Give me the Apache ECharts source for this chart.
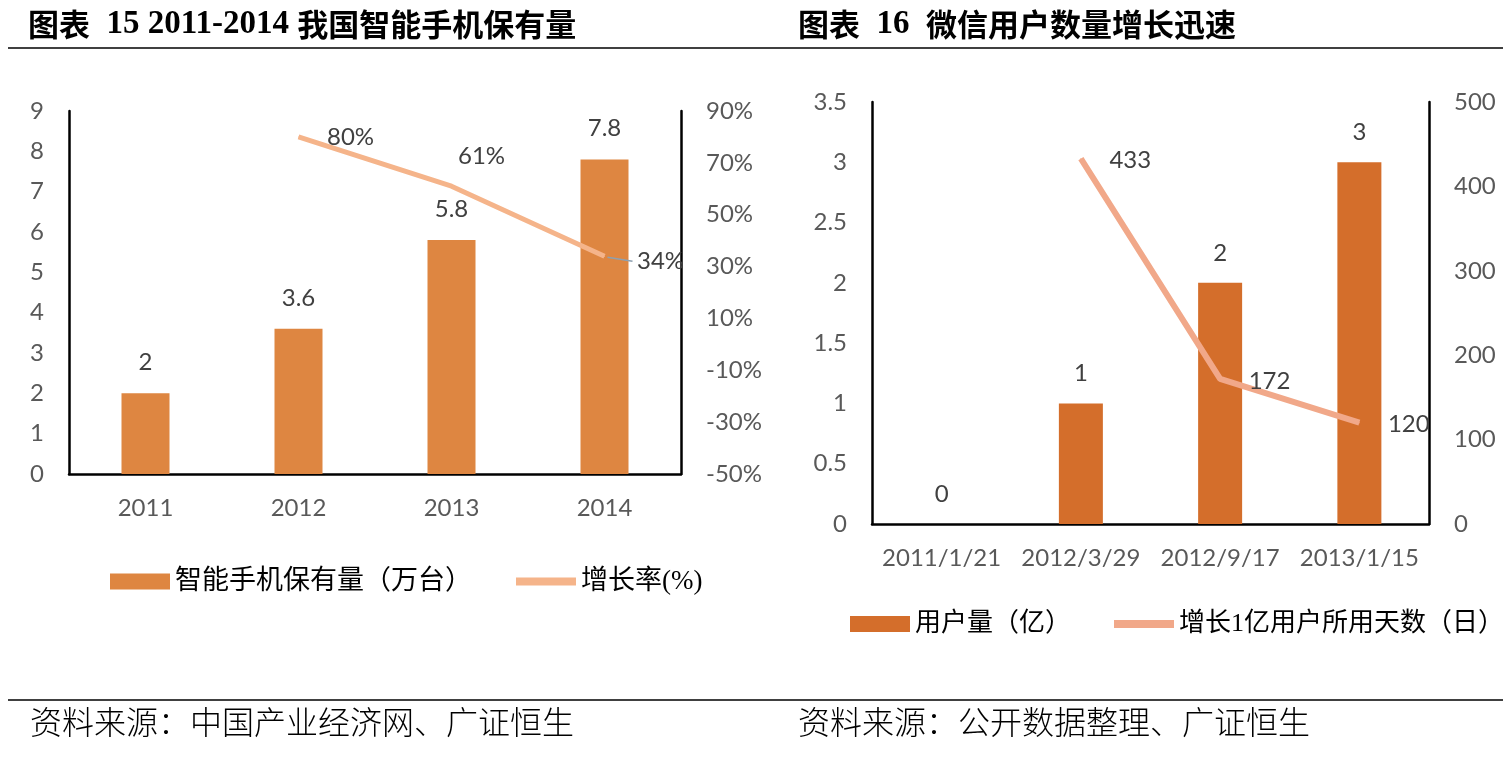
<!DOCTYPE html>
<html>
<head>
<meta charset="utf-8">
<script src="https://cdn.jsdelivr.net/npm/echarts@6/dist/echarts.min.js"></script>
<style>
html,body{margin:0;padding:0;background:#fff;}
#c{width:1510px;height:762px;}
</style>
</head>
<body>
<div id="c"></div>
<script>
// Chart 15
const years = ['2011', '2012', '2013', '2014'];
const phoneStock = [2, 3.6, 5.8, 7.8];
const growthRate = [null, 80, 61, 34];
// Chart 16
const dates = ['2011/1/21', '2012/3/29', '2012/9/17', '2013/1/15'];
const wechatUsers = [0, 1, 2, 3];
const daysPer100m = [null, 433, 172, 120];

const latin = 'Lato, "Noto Sans CJK SC", sans-serif';
const cjk = '"Liberation Serif", "Noto Sans CJK SC", serif';
const labelColor = '#595959';
const valColor = '#404040';

const chart = echarts.init(document.getElementById('c'));

function yAxis(gridIndex, min, max, interval, pos, fmt) {
  return {
    type: 'value', gridIndex, min, max, interval, position: pos,
    axisLine: {show: true, lineStyle: {color: '#000', width: 2.5}},
    axisTick: {show: false},
    splitLine: {show: false},
    axisLabel: {color: labelColor, fontFamily: latin, fontSize: 24, margin: 25, formatter: fmt}
  };
}

// per-point label placement for the growth-rate line
const growthLabelCfg = [
  null,
  {position: 'right', distance: 28},
  {position: 'top', distance: 5, offset: [30, -12]},
  {position: 'right', distance: 32, offset: [0, 5]}
];
const growthData = growthRate.map((v, i) => {
  if (v === null) return null;
  return {value: v, label: Object.assign({show: true}, growthLabelCfg[i])};
});

const titleRich = {
  c: {fontFamily: '"Noto Sans CJK SC", sans-serif', fontWeight: 'bold', fontSize: 31, color: '#000'},
  n: {fontFamily: '"Liberation Serif", serif', fontWeight: 'bold', fontSize: 33, color: '#000'}
};

chart.setOption({
  animation: false,
  textStyle: {fontFamily: latin},
  graphic: [
    {id: 't1', type: 'text', left: 28, top: 8, style: {text: '{c|图表}{n|  15 2011-2014 }{c|我国智能手机保有量}', rich: titleRich}},
    {id: 't2', type: 'text', left: 798, top: 8, style: {text: '{c|图表}{n|  16  }{c|微信用户数量增长迅速}', rich: titleRich}},
    {id: 'l1', type: 'line', shape: {x1: 8, y1: 48, x2: 1503, y2: 48}, style: {stroke: '#000', lineWidth: 1.5}},
    {id: 'l2', type: 'line', shape: {x1: 8, y1: 700, x2: 1503, y2: 700}, style: {stroke: '#000', lineWidth: 1.5}},
    {id: 's1', type: 'text', left: 30, top: 710, style: {text: '资料来源：中国产业经济网、广证恒生', font: '300 32px ' + cjk, fill: '#000'}},
    {id: 's2', type: 'text', left: 798, top: 710, style: {text: '资料来源：公开数据整理、广证恒生', font: '300 32px ' + cjk, fill: '#000'}}
  ],
  legend: [
    {
      left: 105, top: 563, width: 700, itemWidth: 60, itemHeight: 16, itemGap: 44,
      textStyle: {fontFamily: cjk, fontSize: 27, color: '#000'},
      data: [
        {name: '智能手机保有量（万台）', icon: 'rect'},
        {name: '增长率(%)', icon: 'path://M0,4 L60,4 L60,12 L0,12 Z'}
      ]
    },
    {
      left: 845, top: 606, width: 700, itemWidth: 60, itemHeight: 16, itemGap: 43,
      textStyle: {fontFamily: cjk, fontSize: 26, color: '#000'},
      data: [
        {name: '用户量（亿）', icon: 'rect'},
        {name: '增长1亿用户所用天数（日）', icon: 'path://M0,4 L60,4 L60,12 L0,12 Z'}
      ]
    }
  ],
  grid: [
    {left: 69, right: 1510 - 681, top: 111, bottom: 762 - 474},
    {left: 872, right: 1510 - 1429, top: 102, bottom: 762 - 524}
  ],
  xAxis: [
    {
      type: 'category', gridIndex: 0, data: years,
      axisLine: {lineStyle: {color: '#000', width: 2.5}},
      axisTick: {show: false},
      axisLabel: {color: labelColor, fontSize: 24, margin: 22, fontFamily: latin, interval: 0}
    },
    {
      type: 'category', gridIndex: 1, data: dates,
      axisLine: {lineStyle: {color: '#000', width: 2.5}},
      axisTick: {show: false},
      axisLabel: {color: labelColor, fontSize: 24, margin: 22, fontFamily: latin, interval: 0}
    }
  ],
  yAxis: [
    yAxis(0, 0, 9, 1, 'left'),
    yAxis(0, -50, 90, 20, 'right', v => v + '%'),
    yAxis(1, 0, 3.5, 0.5, 'left'),
    yAxis(1, 0, 500, 100, 'right')
  ],
  series: [
    {
      name: '智能手机保有量（万台）', type: 'bar', xAxisIndex: 0, yAxisIndex: 0,
      data: phoneStock, barWidth: 48,
      itemStyle: {color: '#DE8641'},
      label: {show: true, position: 'top', distance: 19, color: valColor, fontSize: 24, fontFamily: latin}
    },
    {
      name: '增长率(%)', type: 'line', xAxisIndex: 0, yAxisIndex: 1,
      data: growthData, symbol: 'circle', symbolSize: 1, showSymbol: true,
      lineStyle: {color: '#F5B48A', width: 5},
      itemStyle: {color: '#F5B48A'},
      label: {show: true, color: valColor, fontSize: 24, fontFamily: latin, formatter: p => p.value + '%'}
    },
    {
      name: '用户量（亿）', type: 'bar', xAxisIndex: 1, yAxisIndex: 2,
      data: wechatUsers, barWidth: 44,
      itemStyle: {color: '#D46E2B'},
      label: {show: true, position: 'top', distance: 18, color: valColor, fontSize: 24, fontFamily: latin}
    },
    {
      name: '增长1亿用户所用天数（日）', type: 'line', xAxisIndex: 1, yAxisIndex: 3,
      data: daysPer100m, symbol: 'circle', symbolSize: 1, showSymbol: true,
      lineStyle: {color: '#F1A889', width: 6},
      itemStyle: {color: '#F1A889'},
      label: {show: true, position: 'right', distance: 28, offset: [0, 2], color: valColor, fontSize: 24, fontFamily: latin}
    }
  ]
});

// leader line from the last growth-rate point to its label, positioned through the axes
const p34 = chart.convertToPixel({gridIndex: 0, xAxisIndex: 0, yAxisIndex: 1}, [3, growthRate[3]]);
if (p34 && isFinite(p34[0]) && isFinite(p34[1])) {
  chart.setOption({
    graphic: [
      {id: 'leader34', type: 'line', z: 100, silent: true,
       shape: {x1: p34[0] + 3, y1: p34[1] + 1, x2: p34[0] + 28, y2: p34[1] + 5},
       style: {stroke: '#8EA0B0', lineWidth: 1.5}}
    ]
  });
}
</script>
</body>
</html>
